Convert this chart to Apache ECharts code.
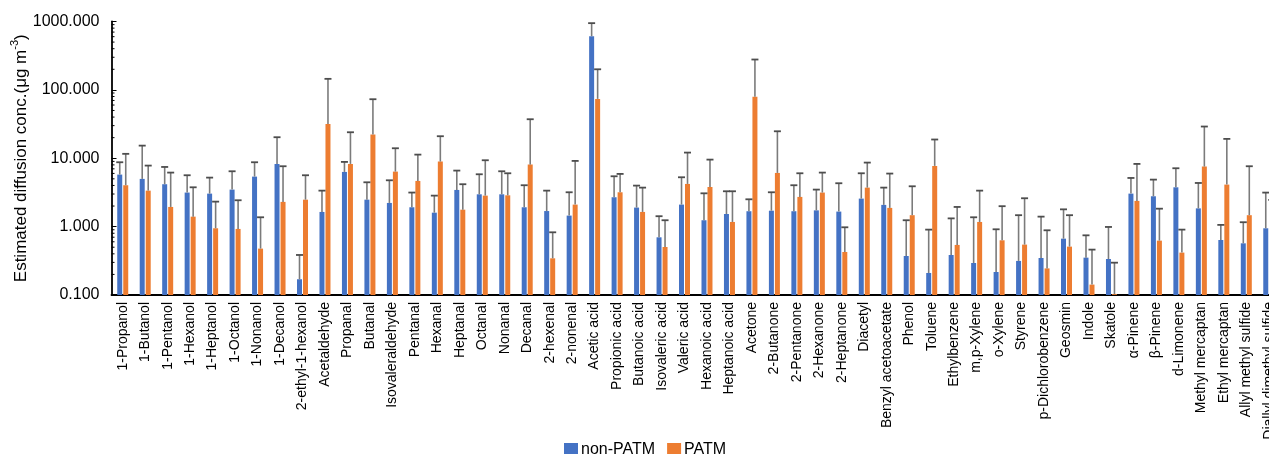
<!DOCTYPE html>
<html>
<head>
<meta charset="utf-8">
<script src="https://cdn.jsdelivr.net/npm/echarts@6/dist/echarts.min.js"></script>
<style>
  html, body { margin: 0; padding: 0; background: #fff; overflow: hidden; }
  #chart { width: 1300px; height: 454px; }
</style>
</head>
<body>
<div id="chart"></div>
<script>
// Compounds on the x axis
const compounds = [
  '1-Propanol', '1-Butanol', '1-Pentanol', '1-Hexanol', '1-Heptanol', '1-Octanol', '1-Nonanol', '1-Decanol',
  '2-ethyl-1-hexanol', 'Acetaldehyde', 'Propanal', 'Butanal', 'Isovaleraldehyde', 'Pentanal', 'Hexanal',
  'Heptanal', 'Octanal', 'Nonanal', 'Decanal', '2-hexenal', '2-nonenal', 'Acetic acid', 'Propionic acid',
  'Butanoic acid', 'Isovaleric acid', 'Valeric acid', 'Hexanoic acid', 'Heptanoic acid', 'Acetone',
  '2-Butanone', '2-Pentanone', '2-Hexanone', '2-Heptanone', 'Diacetyl', 'Benzyl acetoacetate', 'Phenol',
  'Toluene', 'Ethylbenzene', 'm,p-Xylene', 'o-Xylene', 'Styrene', 'p-Dichlorobenzene', 'Geosmin', 'Indole',
  'Skatole', 'α-Pinene', 'β-Pinene', 'd-Limonene', 'Methyl mercaptan', 'Ethyl mercaptan',
  'Allyl methyl sulfide', 'Diallyl dimethyl sulfide'
];

// Mean concentrations (µg m-3)
const nonPATM = [
  5.77, 4.99, 4.17, 3.15, 3.04, 3.48, 5.39, 8.26, 0.17, 1.64, 6.31, 2.48, 2.22, 1.92, 1.60, 3.44, 2.97,
  2.97, 1.92, 1.69, 1.45, 610, 2.69, 1.90, 0.698, 2.10, 1.24, 1.53, 1.68, 1.71, 1.68, 1.73, 1.66, 2.57,
  2.08, 0.372, 0.210, 0.385, 0.294, 0.217, 0.315, 0.348, 0.667, 0.352, 0.336, 3.04, 2.78, 3.76, 1.85,
  0.638, 0.570, 0.946
];
const PATM = [
  4.03, 3.36, 1.94, 1.40, 0.946, 0.925, 0.477, 2.30, 2.48, 31.8, 8.26, 22.2, 6.38, 4.66, 8.94, 1.77, 2.84,
  2.87, 8.07, 0.344, 2.10, 73.8, 3.18, 1.64, 0.504, 4.21, 3.80, 1.17, 79.0, 6.10, 2.72, 3.15, 0.426, 3.72,
  1.88, 1.47, 7.73, 0.540, 1.17, 0.631, 0.546, 0.245, 0.510, 0.142, 0.103, 2.38, 0.624, 0.417, 7.55,
  4.12, 1.47, 1.00
];

// Standard deviations (drawn as upper error bars)
const nonPATMSd = [
  2.97, 10.31, 3.29, 2.49, 2.17, 2.97, 3.35, 12.04, 0.215, 1.72, 2.53, 1.97, 2.54, 1.23, 1.24, 3.16, 2.86,
  3.48, 2.11, 1.67, 1.73, 336, 2.76, 2.08, 0.722, 3.17, 1.83, 1.76, 0.83, 1.47, 2.35, 1.75, 2.65, 3.46,
  1.64, 0.868, 0.694, 0.935, 1.076, 0.697, 1.155, 1.052, 1.123, 0.394, 0.653, 2.11, 2.09, 3.38, 2.50,
  0.422, 0.59, 2.20
];
const PATMSd = [
  7.57, 4.45, 4.23, 2.36, 1.374, 1.505, 0.893, 5.34, 3.16, 113.2, 15.74, 50.8, 7.62, 6.64, 12.06, 2.40,
  6.51, 3.16, 29.13, 0.482, 7.04, 126.2, 2.72, 2.08, 0.736, 7.89, 5.75, 2.12, 199, 18.7, 3.31, 3.02, 0.552,
  4.92, 4.09, 2.42, 11.07, 1.40, 2.19, 1.359, 2.054, 0.639, 0.96, 0.319, 0.194, 5.88, 1.206, 0.487, 21.55,
  15.08, 6.17, 1.46
];

// Log-axis range, decades and their minor tick multipliers
const Y_MIN = 0.1;
const Y_MAX = 1000;
const decades = [0.1, 1, 10, 100];
const minorSteps = [2, 3, 4, 5, 6, 7, 8, 9];

const FONT = '"Liberation Sans", Arial, sans-serif';
const BLUE = '#4472C4';
const ORANGE = '#ED7D31';
const BAR_W = 5;

function pointData(means) {
  return means.map((m, i) => [i, m]);
}
function errorData(means, sds) {
  return means.map((m, i) => [i, m, m + sds[i]]);
}

// Column rising from the bottom of the log axis to the mean
function barRenderer(offset, color) {
  return function (params, api) {
    const i = api.value(0);
    const top = api.coord([i, api.value(1)]);
    const base = api.coord([i, Y_MIN]);
    return {
      type: 'rect',
      shape: { x: top[0] + offset - BAR_W / 2, y: top[1], width: BAR_W, height: base[1] - top[1] },
      style: { fill: color }
    };
  };
}

// Vertical whisker from the bar top up to mean + SD, with a cap
function errorRenderer(offset) {
  return function (params, api) {
    const i = api.value(0);
    const base = api.coord([i, api.value(1)]);
    const top = api.coord([i, api.value(2)]);
    const x = base[0] + offset;
    return {
      type: 'group',
      children: [
        { type: 'line', shape: { x1: x, y1: base[1], x2: x, y2: top[1] },
          style: { stroke: '#7b7b7b', lineWidth: 1.6 } },
        { type: 'line', shape: { x1: x - 3.5, y1: top[1], x2: x + 3.5, y2: top[1] },
          style: { stroke: '#4d4d4d', lineWidth: 1.8 } }
      ]
    };
  };
}

// Minor ticks of the log axis, drawn at 2..9 within each decade
const minorTickValues = [];
decades.forEach(d => minorSteps.forEach(s => minorTickValues.push([0, d * s])));

function minorTickRenderer(params, api) {
  const p = api.coord([0, api.value(1)]);
  const band = api.size([1, 0])[0];
  const x0 = p[0] - band / 2;
  return {
    type: 'line',
    shape: { x1: x0, y1: p[1], x2: x0 + 3, y2: p[1] },
    style: { stroke: '#000', lineWidth: 1 }
  };
}

const chart = echarts.init(document.getElementById('chart'), null, { renderer: 'canvas' });

chart.setOption({
  animation: false,
  textStyle: { fontFamily: FONT },
  grid: {
    left: 111.5, top: 21.5, width: 1168.5, bottom: 159,
    containLabel: false,
    outerBoundsMode: 'none'
  },
  legend: {
    data: ['non-PATM', 'PATM'],
    left: 559,
    top: 437,
    icon: 'rect',
    itemWidth: 14,
    itemHeight: 14,
    itemGap: 12,
    textStyle: { fontFamily: FONT, fontSize: 16, color: '#000', padding: [0, 0, 0, -2] }
  },
  xAxis: {
    type: 'category',
    data: compounds,
    axisLine: { lineStyle: { color: '#000', width: 1.8 } },
    axisTick: { show: false },
    axisLabel: {
      interval: 0,
      rotate: 90,
      margin: 7,
      fontFamily: FONT,
      fontSize: 14,
      color: '#000'
    }
  },
  yAxis: {
    type: 'log',
    logBase: 10,
    min: Y_MIN,
    max: Y_MAX,
    name: '{a|Estimated diffusion conc.(μg m}{s|-3}{a|)}',
    nameLocation: 'middle',
    nameGap: 82,
    nameMoveOverlap: false,
    nameTextStyle: {
      rich: {
        a: { fontFamily: FONT, fontSize: 17, color: '#000', lineHeight: 20, verticalAlign: 'bottom' },
        s: { fontFamily: FONT, fontSize: 11, color: '#000', lineHeight: 20, verticalAlign: 'top' }
      }
    },
    axisLine: { show: true, lineStyle: { color: '#000', width: 1.8 } },
    axisTick: { show: true, inside: true, length: 5, lineStyle: { color: '#000', width: 1 } },
    splitLine: { show: false },
    axisLabel: {
      fontFamily: FONT,
      fontSize: 16,
      color: '#000',
      margin: 12,
      formatter: v => Number(v).toFixed(3)
    }
  },
  series: [
    {
      name: 'non-PATM',
      type: 'custom',
      renderItem: barRenderer(-3, BLUE),
      encode: { x: 0, y: 1 },
      itemStyle: { color: BLUE },
      data: pointData(nonPATM),
      z: 3
    },
    {
      name: 'PATM',
      type: 'custom',
      renderItem: barRenderer(3, ORANGE),
      encode: { x: 0, y: 1 },
      itemStyle: { color: ORANGE },
      data: pointData(PATM),
      z: 3
    },
    {
      name: 'non-PATM SD',
      type: 'custom',
      renderItem: errorRenderer(-3),
      encode: { x: 0, y: [1, 2] },
      data: errorData(nonPATM, nonPATMSd),
      clip: false,
      z: 5
    },
    {
      name: 'PATM SD',
      type: 'custom',
      renderItem: errorRenderer(3),
      encode: { x: 0, y: [1, 2] },
      data: errorData(PATM, PATMSd),
      clip: false,
      z: 5
    },
    {
      name: 'minor ticks',
      type: 'custom',
      renderItem: minorTickRenderer,
      encode: { x: 0, y: 1 },
      data: minorTickValues,
      clip: false,
      silent: true,
      z: 6
    }
  ]
});
</script>
</body>
</html>
